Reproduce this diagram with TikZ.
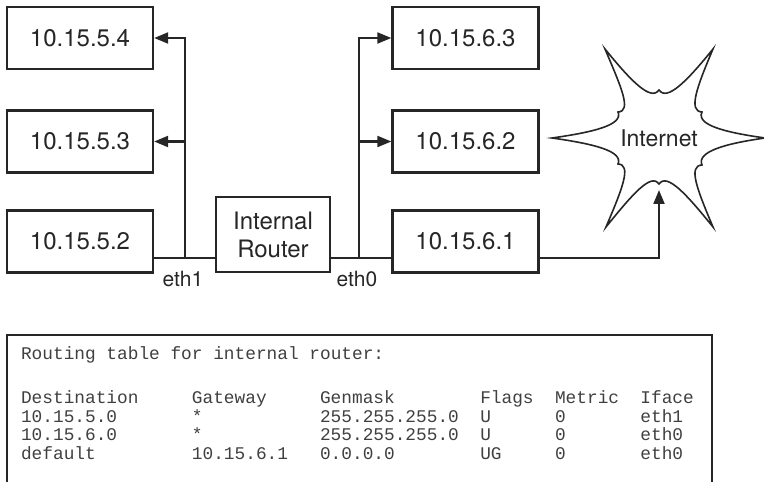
\documentclass[tikz,border=0pt]{standalone}
\usepackage{fontspec}
\setmainfont{TeX Gyre Heros}
\newfontfamily\routefont{Liberation Mono}
\usepackage{tikz}
\usetikzlibrary{arrows.meta}

\begin{document}
\begin{tikzpicture}[x=1pt, y=1pt, line width=2.1pt, color=black!85,
	>={Triangle[length=14pt,width=11pt]},
	host/.style={draw, line width=2.3pt, minimum width=146pt, minimum height=62pt, inner sep=0pt, font=\fontsize{24}{28}\selectfont},
	ethlabel/.style={font=\fontsize{21}{24}\selectfont, inner sep=0pt, anchor=base},
	rtext/.style={font=\routefont\fontsize{17.8}{18.5}\selectfont, text=black!75, inner sep=0pt, anchor=base west, align=left}]
			\useasboundingbox (0,0) rectangle (764,482);

			% subnet 10.15.5
			\node[host] (h54) at (80,444) {10.15.5.4};
			\node[host] (h53) at (80,340.5) {10.15.5.3};
			\node[host] (h52) at (80,240.5) {10.15.5.2};

			\node[host, minimum width=114pt, minimum height=75pt, align=center] (router) at (273,247.5) {Internal\\Router};

			% subnet 10.15.6
			\node[host] (h63) at (465.5,444) {10.15.6.3};
			\node[host] (h62) at (465.5,340.5) {10.15.6.2};
			\node[host] (h61) at (465.5,240.5) {10.15.6.1};

			\coordinate (e1) at (185,224);
			\coordinate (e0) at (359,224);
			\coordinate (tip) at (659,292);

			\node[ethlabel] (l1) at (183,195) {eth1};
			\node[ethlabel] (l0) at (357,195) {eth0};

			\draw (h52.east |- e1) -- (router.west |- e1); % eth1 bus
			\draw[->] (e1) |- (h54.east);
			\draw[->] (e1 |- h53.east) -- (h53.east);

			\draw (router.east |- e0) -- (h61.west |- e0); % eth0 bus
			\draw[->] (e0) |- (h63.west);
			\draw[->] (e0 |- h62.west) -- (h62.west);

			% internet
			\begin{scope}[shift={(659,344)}, line width=1.6pt]
				\draw[fill=white] (106,0)
					to[out=172, in=245, out distance=42, in distance=14] (43,26)
					to[out=177, in=247, out distance=14, in distance=42] (54,89)
					to[out=231, in=305, out distance=42, in distance=14] (0,48)
					to[out=235, in=309, out distance=14, in distance=42] (-54,89)
					to[out=293, in=3, out distance=42, in distance=14] (-41,26)
					to[out=293, in=8, out distance=14, in distance=42] (-107,0)
					to[out=-8, in=67, out distance=42, in distance=14] (-41,-26)
					to[out=-3, in=67, out distance=14, in distance=42] (-53,-89)
					to[out=51, in=125, out distance=42, in distance=14] (0,-46)
					to[out=55, in=129, out distance=14, in distance=42] (54,-89)
					to[out=113, in=183, out distance=42, in distance=14] (43,-27)
					to[out=113, in=188, out distance=14, in distance=42] (106,0);
			\end{scope}
			\node[font=\fontsize{23}{26}\selectfont, inner sep=0pt] (inet) at (659,344) {Internet};

			\draw[->] (h61.east |- e0) -| (tip);

			% routing table
			\draw[line width=1.8pt] (7,-5) -- (7,147) -- (712,147) -- (712,-5);
			\node[rtext] (title) at (20,122.7) {Routing table for internal router:};
			\node[rtext] (dest) at (20,22.5) {Destination\\10.15.5.0\\10.15.6.0\\default};
			\node[rtext] (gw) at (190.9,22.5) {Gateway\\*\\*\\10.15.6.1};
			\node[rtext] (mask) at (319,22.5) {Genmask\\255.255.255.0\\255.255.255.0\\0.0.0.0};
			\node[rtext] (flags) at (479.2,22.5) {Flags\\U\\U\\UG};
			\node[rtext] (metric) at (554,22.5) {Metric\\0\\0\\0};
			\node[rtext] (iface) at (639.4,22.5) {Iface\\eth1\\eth0\\eth0};
\end{tikzpicture}
\end{document}
